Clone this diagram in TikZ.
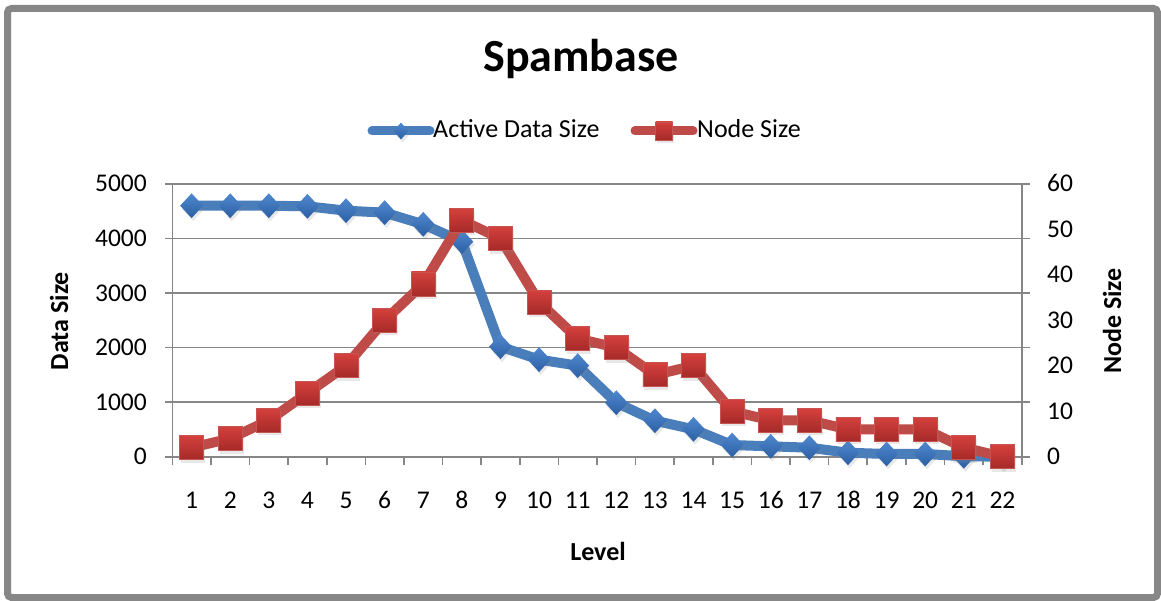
\documentclass[tikz,border=0pt]{standalone}
\usepackage{fontspec}
\setmainfont{Carlito}
\usetikzlibrary{shapes.geometric,shadows}
\definecolor{gridgray}{HTML}{868686}
\definecolor{framegray}{HTML}{878787}
\definecolor{bline}{HTML}{4A7EBB}
\definecolor{btop}{HTML}{4F88CF}
\definecolor{bbot}{HTML}{2C5FA3}
\definecolor{rline}{HTML}{BE4B48}
\definecolor{rtop}{HTML}{D4403D}
\definecolor{rbot}{HTML}{A52A28}
\definecolor{rdraw}{HTML}{C65450}
\tikzset{
  gridline/.style={gridgray, line width=1.6pt},
  axisline/.style={gridgray, line width=1.6pt},
  blueline/.style={bline, line width=10pt, line join=round, line cap=round},
  redline/.style={rline, line width=10pt, line join=round, line cap=round},
  bmark/.style={diamond, inner sep=0pt, minimum width=23pt, minimum height=25pt, shape aspect=1,
     top color=btop, bottom color=bbot, draw=none,
     drop shadow={shadow xshift=1.5pt, shadow yshift=-3pt, opacity=0.18}},
  rmark/.style={rectangle, inner sep=0pt, minimum width=24pt, minimum height=24pt,
     top color=rtop, bottom color=rbot, draw=rdraw, line width=0.8pt,
     drop shadow={shadow xshift=1.5pt, shadow yshift=-3pt, opacity=0.18}},
  ticklab/.style={font=\fontsize{25.5}{30}\selectfont, inner sep=0pt},
  axtitle/.style={font=\fontsize{26}{30}\selectfont\bfseries, inner sep=0pt},
}
\begin{document}
\begin{tikzpicture}[x=1pt, y=-1pt]
\useasboundingbox (0,0) rectangle (1161,601);
\fill[white] (0,0) rectangle (1161,601);
\draw[framegray, line width=7pt, rounded corners=4pt] (7.5,8.5) rectangle (1157.5,597.5);

% title
\node[font=\fontsize{46}{50}\selectfont\bfseries, anchor=base, inner sep=0pt] (title) at (581,72) {Spambase};

% legend
\coordinate (la1) at (372,131); \coordinate (la2) at (430,131);
\draw[blueline, line width=9pt] (la1) -- (la2);
\node[bmark, minimum width=15pt, minimum height=17pt, drop shadow={opacity=0}] (lam) at (401,131) {};
\node[font=\fontsize{26}{30}\selectfont, anchor=base west, inner sep=0pt] (lat) at (433,137.5) {Active Data Size};
\coordinate (lr1) at (635,131); \coordinate (lr2) at (693,131);
\draw[redline, line width=9pt] (lr1) -- (lr2);
\node[rmark, minimum width=17pt, minimum height=18pt, drop shadow={opacity=0}] (lrm) at (664,131) {};
\node[font=\fontsize{26}{30}\selectfont, anchor=base west, inner sep=0pt] (lrt) at (697,137.5) {Node Size};

% gridlines and axes
\foreach \k in {1,...,5} {
  \draw[gridline] (172.3,{456.7-\k*54.54}) -- (1021.7,{456.7-\k*54.54});
  \draw[axisline] (165,{456.7-\k*54.54}) -- (172.3,{456.7-\k*54.54});
  \draw[axisline] (1021.7,{456.7-\k*54.54}) -- (1030,{456.7-\k*54.54});
}
\draw[axisline] (165,456.7) -- (1030,456.7);
\draw[axisline] (172.3,184.0) -- (172.3,456.7);
\draw[axisline] (1021.7,184.0) -- (1021.7,456.7);
\foreach \k in {0,...,22} {
  \draw[axisline] ({172.3+\k*38.61},456.7) -- ({172.3+\k*38.61},465);
}

% left tick labels
\foreach \v [count=\k from 0] in {0,1000,2000,3000,4000,5000} {
  \node[ticklab, anchor=base east] (ly\k) at (147,{456.7-\k*54.54+8}) {\v};
}
% right tick labels
\foreach \v [count=\k from 0] in {0,10,20,30,40,50,60} {
  \node[ticklab, anchor=base west] (ry\k) at (1047,{456.7-\k*45.45+8}) {\v};
}
% category labels
\foreach \i in {1,...,22} {
  \node[ticklab, anchor=base] (cx\i) at ({172.3+(\i-0.5)*38.61},508) {\i};
}

% axis titles
\node[axtitle, rotate=90] (ytl) at (59,321) {Data Size};
\node[axtitle, rotate=90] (ytr) at (1112,321) {Node Size};
\node[axtitle] (xt) at (598,551) {Level};

% data
\foreach \v [count=\i] in {4601,4601,4601,4590,4510,4474,4260,3942,2017,1780,1669,990,660,502,214,190,165,73,50,50,8,0} {
  \coordinate (b\i) at ({172.3+(\i-0.5)*38.61},{456.7-\v*0.054545});
}
\foreach \v [count=\i] in {2,4,8,14,20,30,38,52,48,34,26,24,18,20,10,8,8,6,6,6,2,0} {
  \coordinate (r\i) at ({172.3+(\i-0.5)*38.61},{456.7-\v*4.5454});
}
\draw[blueline] (b1) \foreach \i in {2,...,22} { -- (b\i) };
\foreach \i in {1,...,22} { \node[bmark] (bm\i) at (b\i) {}; }
\draw[redline] (r1) \foreach \i in {2,...,22} { -- (r\i) };
\foreach \i in {1,...,22} { \node[rmark] (rm\i) at (r\i) {}; }
\end{tikzpicture}
\end{document}
